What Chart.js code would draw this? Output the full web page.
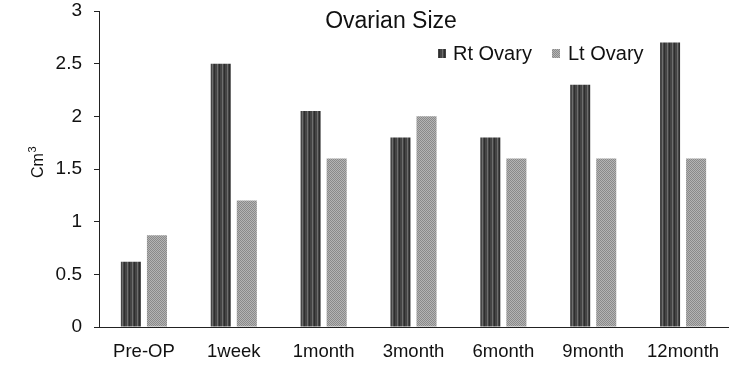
<!DOCTYPE html>
<html>
<head>
<meta charset="utf-8">
<script src="https://cdn.jsdelivr.net/npm/chart.js@4/dist/chart.umd.min.js"></script>
<style>
  html, body { margin: 0; padding: 0; background: #fff; }
  #wrap { width: 753px; height: 369px; }
</style>
</head>
<body>
<div id="wrap"><canvas id="sizeChart" width="753" height="369"></canvas></div>
<script>
// Ovarian size chart

const categories = ['Pre-OP', '1week', '1month', '3month', '6month', '9month', '12month'];
const rtOvary = [0.62, 2.5, 2.05, 1.8, 1.8, 2.3, 2.7];
const ltOvary = [0.87, 1.2, 1.6, 2.0, 1.6, 1.6, 1.6];
const yTicks = [0, 0.5, 1, 1.5, 2, 2.5, 3];

const FONT = '"Liberation Sans", Arial, sans-serif';

// striped / dotted fills like the original print
const makePattern = (kind) => {
  const c = document.createElement('canvas');
  const g = c.getContext('2d');
  if (kind === 'rt') {
    c.width = 5; c.height = 4;
    g.fillStyle = '#454545';
    g.fillRect(0, 0, 5, 4);
    g.fillStyle = '#6e6e6e';
    g.fillRect(2, 0, 1, 4);
    g.fillStyle = '#2e2e2e';
    g.fillRect(4, 0, 1, 4);
  } else {
    c.width = 2; c.height = 2;
    g.fillStyle = '#b4b4b4';
    g.fillRect(0, 0, 2, 2);
    g.fillStyle = '#8a8a8a';
    g.fillRect(0, 0, 1, 1);
    g.fillRect(1, 1, 1, 1);
  }
  return g.createPattern(c, 'repeat');
};

const rtFill = makePattern('rt');
const ltFill = makePattern('lt');

// title, legend and axis title are placed by hand, as in the source figure
const overlayPlugin = {
  id: 'overlay',
  afterDraw(chart) {
    const ctx = chart.ctx;
    ctx.save();
    ctx.fillStyle = '#111';
    ctx.textBaseline = 'middle';
    ctx.textAlign = 'center';
    ctx.font = '23px ' + FONT;
    ctx.fillText('Ovarian Size', 391, 22);

    ctx.textAlign = 'left';
    ctx.font = '20px ' + FONT;
    ctx.fillStyle = rtFill;
    ctx.fillRect(438, 49, 8, 9);
    ctx.fillStyle = '#111';
    ctx.fillText('Rt Ovary', 453, 54);
    ctx.fillStyle = ltFill;
    ctx.fillRect(552, 49, 8, 9);
    ctx.fillStyle = '#111';
    ctx.fillText('Lt Ovary', 568, 54);

    // y axis title "Cm³" with a real superscript
    ctx.translate(43, 178);
    ctx.rotate(-Math.PI / 2);
    ctx.textBaseline = 'alphabetic';
    ctx.font = '16px ' + FONT;
    ctx.fillText('Cm', 0, 0);
    const w = ctx.measureText('Cm').width;
    ctx.font = '11px ' + FONT;
    ctx.fillText('3', w + 0.5, -7);
    ctx.restore();
  },
};

new Chart(document.getElementById('sizeChart'), {
  type: 'bar',
  data: {
    labels: categories,
    datasets: [
      {
        label: 'Rt Ovary',
        data: rtOvary,
        backgroundColor: rtFill,
        barPercentage: 0.77,
        categoryPercentage: 0.58,
      },
      {
        label: 'Lt Ovary',
        data: ltOvary,
        backgroundColor: ltFill,
        barPercentage: 0.77,
        categoryPercentage: 0.58,
      },
    ],
  },
  options: {
    responsive: false,
    animation: false,
    layout: { padding: { left: 0, right: 25, top: 11, bottom: 0 } },
    plugins: {
      legend: { display: false },
      title: { display: false },
      tooltip: { enabled: false },
    },
    scales: {
      x: {
        afterFit: (scale) => {
          scale.height = 42;
          scale.paddingLeft = 0;
          scale.paddingRight = 0;
        },
        grid: { display: false, drawTicks: false },
        border: { color: '#222', width: 1 },
        ticks: {
          color: '#111',
          font: { family: FONT, size: 18.5 },
          padding: 14,
          maxRotation: 0,
        },
      },
      y: {
        min: 0,
        max: 3,
        afterBuildTicks: (scale) => {
          scale.ticks = yTicks.map((v) => ({ value: v }));
        },
        afterFit: (scale) => {
          scale.width = 99;
          scale.paddingTop = 0;
          scale.paddingBottom = 0;
        },
        grid: { drawOnChartArea: false, drawTicks: true, tickLength: 5, color: '#222' },
        border: { color: '#222', width: 1 },
        ticks: {
          color: '#111',
          font: { family: FONT, size: 19 },
          padding: 12,
          callback: (v) => String(v),
        },
      },
    },
  },
  plugins: [overlayPlugin],
});
</script>
</body>
</html>
